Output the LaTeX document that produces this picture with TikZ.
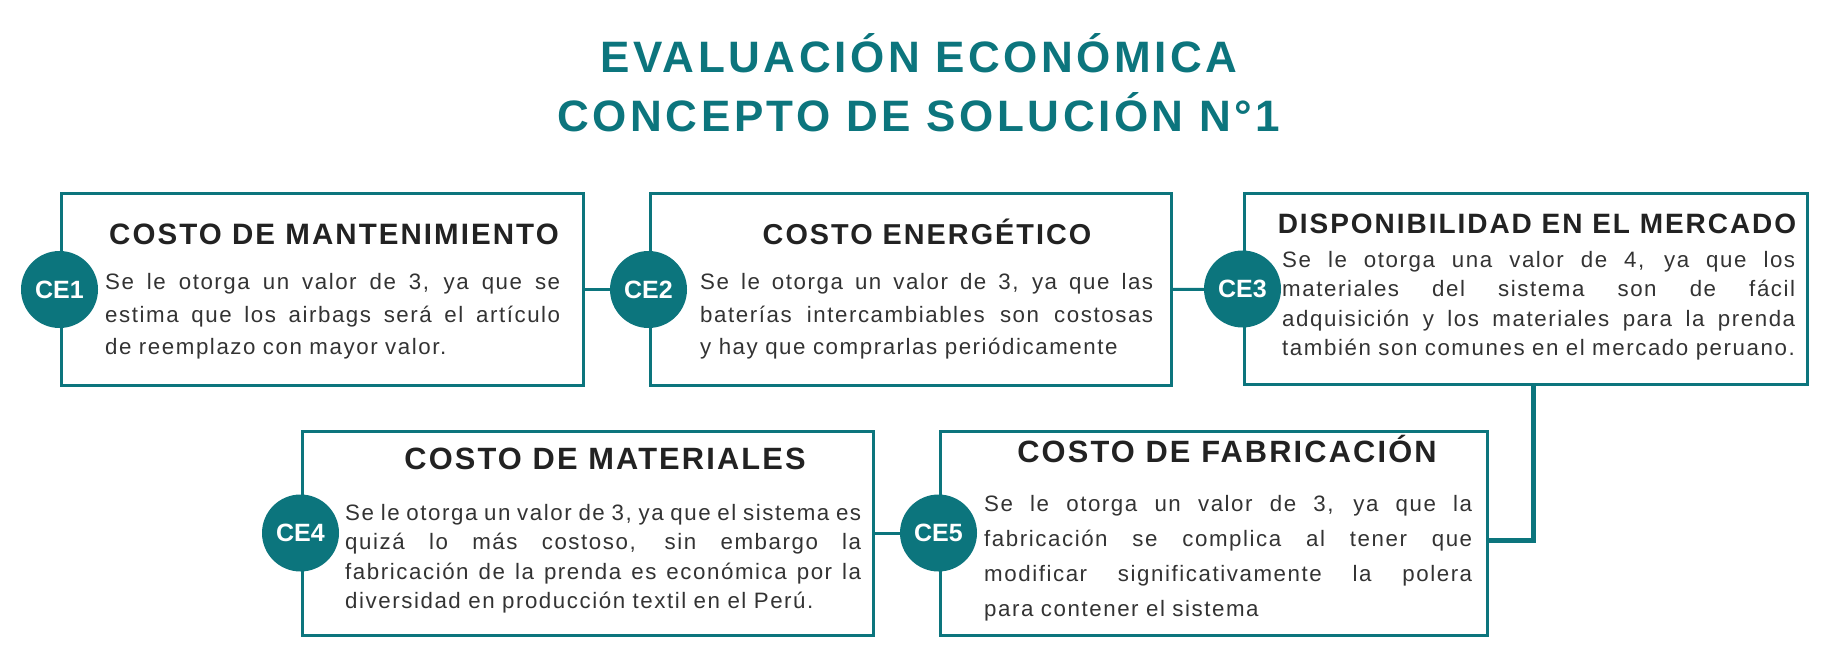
\documentclass[tikz,border=0pt]{standalone}
\usepackage{fontspec}
\setmainfont{Liberation Sans}
\newfontfamily\titlefont[LetterSpace=8]{Liberation Sans}
\newfontfamily\headfont[LetterSpace=7]{Liberation Sans}
\newfontfamily\bodyfont[LetterSpace=7]{Liberation Sans}
\definecolor{evteal}{HTML}{0C757D}
\definecolor{evink}{HTML}{222222}
\definecolor{evbody}{HTML}{333333}
\newcommand{\jl}[1]{\noindent\hbox to\hsize{\spaceskip=0.278em plus 1fill\relax #1}\par}

\begin{document}
\begin{tikzpicture}[x=1pt,y=-1pt,
  box/.style={draw=evteal,line width=3pt,fill=white},
  ce/.style={circle,fill=evteal,minimum size=77pt,inner sep=0pt,text=white,font=\bfseries\fontsize{25}{25}\selectfont},
  link/.style={draw=evteal,line width=3pt},
  hd/.style={anchor=base,text=evink,inner sep=0pt,font=\headfont\bfseries\fontsize{#1}{#1}\selectfont},
  hd/.default=28.5,
  tx/.style={anchor=base west,text=evbody,inner sep=0pt,font=\bodyfont\fontsize{22.3}{#1}\selectfont},
  tx/.default=29.5]
\useasboundingbox (0,0) rectangle (1836,668);
% title
\node[anchor=base,text=evteal,inner sep=0pt,font=\titlefont\bfseries\fontsize{44}{44}\selectfont] (h1) at (919,73) {EVALUACIÓN ECONÓMICA};
\node[anchor=base,text=evteal,inner sep=0pt,font=\titlefont\bfseries\fontsize{44}{44}\selectfont] (h2) at (919,132) {CONCEPTO DE SOLUCIÓN N°1};
% boxes
\node[box,minimum width=522pt,minimum height=191pt] (b1) at (322,289.5) {};
\node[box,minimum width=521pt,minimum height=191pt] (b2) at (910.5,289.5) {};
\node[box,minimum width=563pt,minimum height=190pt] (b3) at (1525.5,289) {};
\node[box,minimum width=571pt,minimum height=204pt] (b4) at (587.5,533) {};
\node[box,minimum width=547pt,minimum height=204pt] (b5) at (1213.5,533) {};
% circles
\node[ce] (c1) at (b1.west) {CE1};
\node[ce] (c2) at (b2.west) {CE2};
\node[ce] (c3) at (b3.west) {CE3};
\node[ce] (c4) at (b4.west) {CE4};
\node[ce] (c5) at (b5.west) {CE5};
% links
\draw[link] (b1.east) -- (c2);
\draw[link] (b2.east) -- (c3);
\draw[link] (b4.east) -- (c5);
\coordinate (k) at (1533,540);
\draw[link,line width=5pt] (b3.south -| k) -- (k) -- (k -| b5.east);
% headings
\node[hd=29.5] (t1) at (334,245) {COSTO DE MANTENIMIENTO};
\node[hd=28.8] (t2) at (927,245) {COSTO ENERGÉTICO};
\node[hd=28] (t3) at (1537,234) {DISPONIBILIDAD EN EL MERCADO};
\node[hd=30.8] (t4) at (605,469) {COSTO DE MATERIALES};
\node[hd=30.8] (t5) at (1227,462) {COSTO DE FABRICACIÓN};
% texts
\node[tx=32.5,text width=455pt] (p1) at (105,290) {\jl{Se le otorga un valor de 3, ya que se}\jl{estima que los airbags será el artículo}\noindent de reemplazo con mayor valor.};
\node[tx=32.5,text width=453pt] (p2) at (700,290) {\jl{Se le otorga un valor de 3, ya que las}\jl{baterías intercambiables son costosas}\noindent y hay que comprarlas periódicamente};
\node[tx,text width=513pt] (p3) at (1282,267.5) {\jl{Se le otorga una valor de 4, ya que los}\jl{materiales del sistema son de fácil}\jl{adquisición y los materiales para la prenda}\noindent también son comunes en el mercado peruano.};
\node[tx,text width=516pt] (p4) at (345,520) {\jl{Se le otorga un valor de 3, ya que el sistema es}\jl{quizá lo más costoso, sin embargo la}\jl{fabricación de la prenda es económica por la}\noindent diversidad en producción textil en el Perú.};
\node[tx=35,text width=488pt] (p5) at (984,511) {\jl{Se le otorga un valor de 3, ya que la}\jl{fabricación se complica al tener que}\jl{modificar significativamente la polera}\noindent para contener el sistema};
\end{tikzpicture}
\end{document}
